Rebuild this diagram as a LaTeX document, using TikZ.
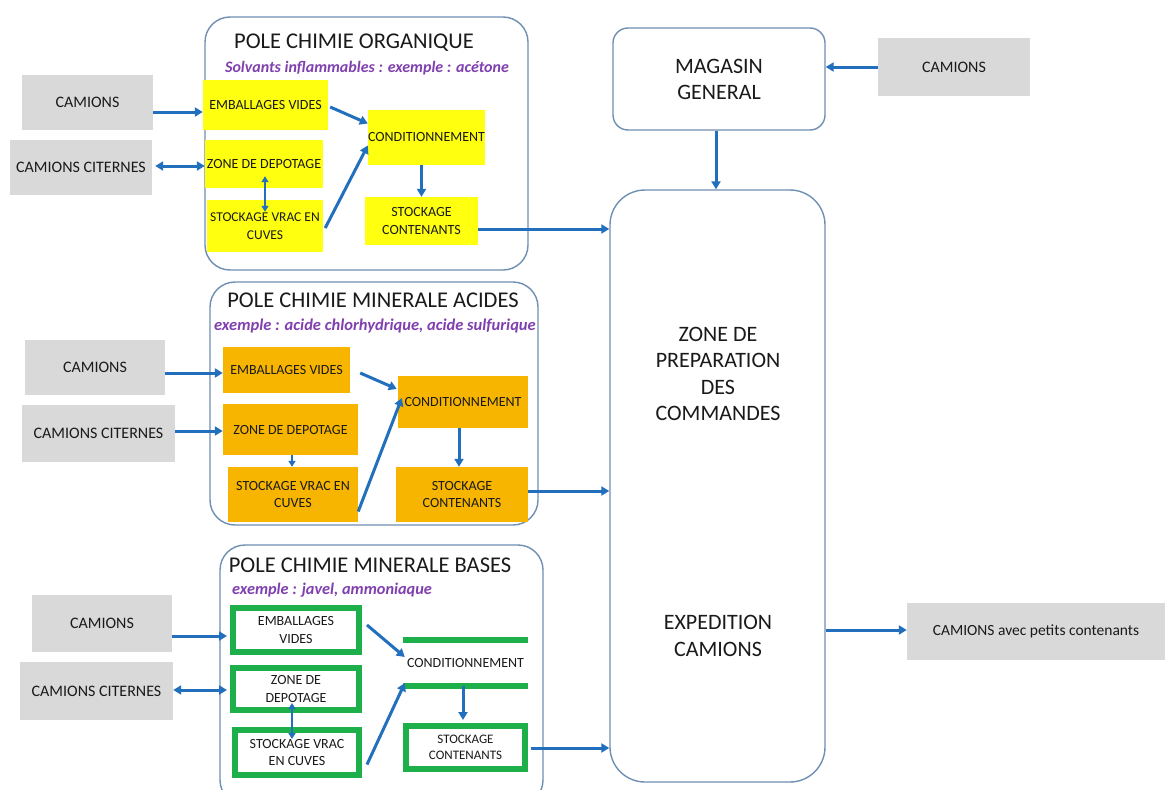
\documentclass[tikz,border=0pt]{standalone}
\usepackage{fontspec}
\setmainfont{Carlito}
\usetikzlibrary{arrows.meta,calc}
\definecolor{gfill}{HTML}{D9D9D9}
\definecolor{yel}{HTML}{FFFF10}
\definecolor{ora}{HTML}{F7B500}
\definecolor{grn}{HTML}{1DB04A}
\definecolor{arrc}{HTML}{2270BD}
\definecolor{framec}{HTML}{6F8FB3}
\definecolor{purp}{HTML}{8040B0}
\definecolor{txt}{HTML}{1A1A1A}
\tikzset{
 gbox/.style={fill=gfill, inner sep=0pt, align=center, text=txt, font=\fontsize{16}{19}\selectfont},
 frame/.style={draw=framec, line width=1.4pt, rounded corners=25pt, inner sep=0pt},
 rbox/.style={draw=framec, line width=1.4pt, inner sep=0pt, align=center, text=txt, font=\fontsize{22}{26}\selectfont},
 ybox/.style={fill=yel, inner sep=0pt, align=center, text=txt, font=\fontsize{14}{17.5}\selectfont},
 obox/.style={fill=ora, inner sep=0pt, align=center, text=txt, font=\fontsize{14}{17.5}\selectfont},
 gnbox/.style={draw=grn, line width=6pt, fill=white, inner sep=0pt, align=center, text=txt, font=\fontsize{14}{17.5}\selectfont},
 gnline/.style={draw=grn, line width=6pt},
 ttl/.style={font=\fontsize{22.5}{26}\selectfont, text=txt, inner sep=0pt},
 subt/.style={font=\bfseries\itshape, text=purp, inner sep=0pt},
 bigtxt/.style={font=\fontsize{22}{26.5}\selectfont, text=txt, align=center, inner sep=0pt},
 arr/.style={draw=arrc, line width=3pt, -{Triangle[length=8pt,width=9pt]}},
 darr/.style={draw=arrc, line width=3pt, {Triangle[length=8pt,width=9pt]}-{Triangle[length=8pt,width=9pt]}},
 tarr/.style={draw=arrc, line width=1.6pt, -{Triangle[length=6pt,width=7pt]}},
 dtarr/.style={draw=arrc, line width=1.6pt, {Triangle[length=6pt,width=7pt]}-{Triangle[length=6pt,width=7pt]}},
}
\begin{document}
\begin{tikzpicture}[x=1pt,y=-1pt]
\useasboundingbox (0,0) rectangle (1165,790);
\clip (0,0) rectangle (1165,790);
\fill[white] (0,0) rectangle (1165,790);

% ---------- frames ----------
\node[frame, minimum width=323pt, minimum height=253pt] (orgframe) at (366.5,143.5) {};
\node[frame, minimum width=328pt, minimum height=243pt] (acidframe) at (374,403.5) {};
\node[frame, minimum width=323pt, minimum height=260pt] (baseframe) at (381.5,675) {};

% ---------- right side ----------
\node[rbox, rounded corners=15pt, minimum width=212pt, minimum height=102pt] (mag) at (719,79) {MAGASIN\\GENERAL};
\node[gbox, minimum width=152pt, minimum height=58pt] (rcam) at (954,67) {CAMIONS};
\node[draw=framec, line width=1.4pt, rounded corners=35pt, minimum width=215pt, minimum height=592pt, inner sep=0pt] (prep) at (717.5,486) {};
\node[bigtxt] (preptxt) at (718,374) {ZONE DE\\PREPARATION\\DES\\COMMANDES};
\node[bigtxt] (exptxt) at (718,636) {EXPEDITION\\CAMIONS};
\node[gbox, minimum width=258pt, minimum height=57pt, font=\fontsize{15.5}{18}\selectfont] (petits) at (1036,631.5) {CAMIONS avec petits contenants};

% ---------- organique ----------
\node[ttl] (orgtitle) at (354,43) {POLE CHIMIE ORGANIQUE};
\node[subt, font=\fontsize{16}{18}\selectfont\bfseries\itshape] (orgsub) at (367,68) {Solvants inflammables : exemple : acétone};
\node[gbox, minimum width=131pt, minimum height=55pt] (orgcam) at (87.5,102.5) {CAMIONS};
\node[gbox, minimum width=142pt, minimum height=55pt] (orgcit) at (81,167.5) {CAMIONS CITERNES};
\node[ybox, minimum width=125pt, minimum height=50pt] (orgemb) at (265.5,105) {EMBALLAGES VIDES};
\node[ybox, minimum width=118pt, minimum height=48pt] (orgzone) at (264,164) {ZONE DE DEPOTAGE};
\node[ybox, minimum width=116pt, minimum height=52pt, font=\fontsize{13.5}{17.5}\selectfont] (orgsv) at (265,226) {STOCKAGE VRAC EN\\CUVES};
\node[ybox, minimum width=115pt, minimum height=55pt] (orgcond) at (426.5,137.5) {CONDITIONNEMENT};
\node[ybox, minimum width=113pt, minimum height=48pt] (orgsc) at (421.5,221) {STOCKAGE\\CONTENANTS};

% ---------- acides ----------
\node[ttl] (acidtitle) at (373,300) {POLE CHIMIE MINERALE ACIDES};
\node[subt, font=\fontsize{16.5}{18}\selectfont\bfseries\itshape] (acidsub) at (375,326) {exemple : acide chlorhydrique, acide sulfurique};
\node[gbox, minimum width=140pt, minimum height=55pt] (acidcam) at (95,367.5) {CAMIONS};
\node[gbox, minimum width=153pt, minimum height=57pt] (acidcit) at (98.5,433.5) {CAMIONS CITERNES};
\node[obox, minimum width=127pt, minimum height=46pt] (acidemb) at (286.5,370) {EMBALLAGES VIDES};
\node[obox, minimum width=135pt, minimum height=51pt] (acidzone) at (290.5,429.5) {ZONE DE DEPOTAGE};
\node[obox, minimum width=130pt, minimum height=55pt] (acidsv) at (293,494.5) {STOCKAGE VRAC EN\\CUVES};
\node[obox, minimum width=130pt, minimum height=52pt] (acidcond) at (463,402) {CONDITIONNEMENT};
\node[obox, minimum width=132pt, minimum height=55pt] (acidsc) at (462,494.5) {STOCKAGE\\CONTENANTS};

% ---------- bases ----------
\node[ttl] (basetitle) at (370,565) {POLE CHIMIE MINERALE BASES};
\node[subt, anchor=west, font=\fontsize{16.3}{18}\selectfont\bfseries\itshape] (basesub) at (232,590) {exemple : javel, ammoniaque};
\node[gbox, minimum width=140pt, minimum height=57pt] (basecam) at (102,623.5) {CAMIONS};
\node[gbox, minimum width=153pt, minimum height=58pt] (basecit) at (96.5,691) {CAMIONS CITERNES};
\node[gnbox, minimum width=126pt, minimum height=44pt] (baseemb) at (296,630) {EMBALLAGES\\VIDES};
\node[gnbox, minimum width=126pt, minimum height=42pt] (basezone) at (296,689) {ZONE DE\\DEPOTAGE};
\node[gnbox, minimum width=124pt, minimum height=45pt] (basesv) at (297,752.5) {STOCKAGE VRAC\\EN CUVES};
\node[inner sep=0pt, minimum width=125pt, minimum height=46pt, text=txt, font=\fontsize{14}{17}\selectfont] (basecond) at (465.5,663) {CONDITIONNEMENT};
\draw[gnline] (basecond.north west) -- (basecond.north east);
\draw[gnline] (basecond.south west) -- (basecond.south east);
\node[gnbox, minimum width=119pt, minimum height=43pt, font=\fontsize{13}{16}\selectfont] (basesc) at (465.5,747.5) {STOCKAGE\\CONTENANTS};

% ---------- arrows: right ----------
\draw[arr] (rcam.west) -- (mag.east |- rcam.west);
\draw[arr] (mag.south -| 716,0) -- (prep.north -| 716,0);
\draw[arr] (prep.east |- 0,630) -- (petits.west |- 0,630);

% ---------- arrows: organique ----------
\draw[arr] (orgcam.east |- 0,112) -- (orgemb.west |- 0,112);
\draw[darr] ($(orgcit.east |- 0,166)+(3,0)$) -- (orgzone.west |- 0,166);
\draw[dtarr] ($(orgzone.south)+(1,-12)$) -- ($(orgsv.north)+(0,12)$);
\draw[arr] ($(orgemb.east)+(2,2)$) -- ($(orgcond.west)+(0,-14)$);
\draw[arr] ($(orgsv.east)+(2,2)$) -- ($(orgcond.west)+(0,8)$);
\draw[arr] (orgsc.north |- orgcond.south) -- (orgsc.north);
\draw[arr] (orgsc.east |- 0,229) -- (prep.west |- 0,229);

% ---------- arrows: acides ----------
\draw[arr] (acidcam.east |- 0,373) -- (acidemb.west |- 0,373);
\draw[arr] (acidcit.east |- 0,431) -- (acidzone.west |- 0,431);
\draw[tarr] (acidzone.south -| 292,0) -- (acidsv.north -| 292,0);
\draw[arr] ($(acidemb.east)+(10,3)$) -- ($(acidcond.west)+(-1,-13)$);
\draw[arr] ($(acidsv.east)+(0,17)$) -- ($(acidcond.west)+(4,-4)$);
\draw[arr] (acidcond.south -| 459,0) -- (acidsc.north -| 459,0);
\draw[arr] (acidsc.east |- 0,491) -- (prep.west |- 0,491);

% ---------- arrows: bases ----------
\draw[arr] (basecam.east |- 0,636) -- ($(baseemb.west |- 0,636)+(-3,0)$);
\draw[darr] (basecit.east |- 0,690) -- ($(basezone.west |- 0,690)+(-3,0)$);
\draw[dtarr] (basezone.south -| 292,0) ++(0,-10) -- ($(basesv.north -| 292,0)+(0,12)$);
\draw[arr] ($(baseemb.east)+(5,-5)$) -- ($(basecond.west)+(2,-6)$);
\draw[arr] ($(basesv.east)+(5,12)$) -- ($(basecond.west)+(2,20)$);
\draw[arr] (basecond.south -| 463,0) -- ($(basesc.north -| 463,0)+(0,-3)$);
\draw[arr] ($(basesc.east |- 0,748)+(3,0)$) -- (prep.west |- 0,748);
\end{tikzpicture}
\end{document}
